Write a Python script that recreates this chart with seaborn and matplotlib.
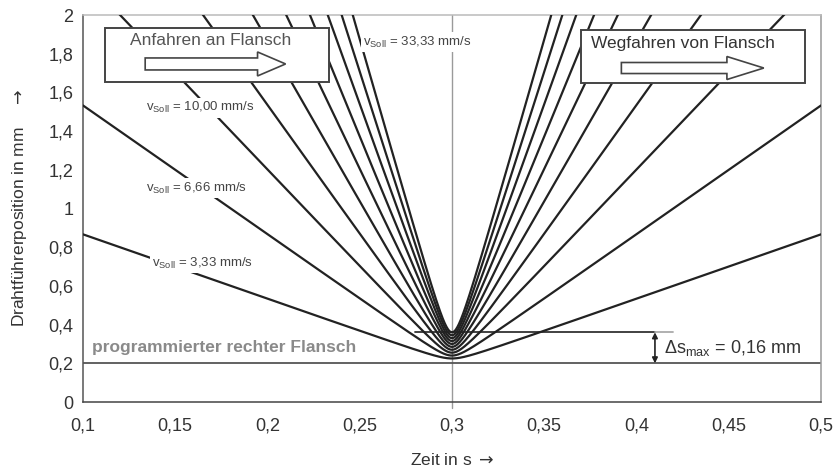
import numpy as np
import pandas as pd
import matplotlib.pyplot as plt
from matplotlib.patches import Rectangle, FancyArrow
import seaborn as sns

# chart values
speeds = [3.33, 6.66, 10.00, 13.33, 16.66, 20.00, 23.33, 26.66, 30.00, 33.33]  # v_Soll in mm/s
turn_pos = [0.225, 0.24, 0.255, 0.27, 0.285, 0.30, 0.315, 0.33, 0.345, 0.36]  # position at reversal in mm
flange = 0.2        # programmierter rechter Flansch
t_turn = 0.3        # reversal time in s
ds_max = 0.16

xticks = [0.1, 0.15, 0.2, 0.25, 0.3, 0.35, 0.4, 0.45, 0.5]
xtick_labels = ["0,1", "0,15", "0,2", "0,25", "0,3", "0,35", "0,4", "0,45", "0,5"]
yticks = [0, 0.2, 0.4, 0.6, 0.8, 1.0, 1.2, 1.4, 1.6, 1.8, 2.0]
ytick_labels = ["0", "0,2", "0,4", "0,6", "0,8", "1", "1,2", "1,4", "1,6", "1,8", "2"]

# build long table: position = flange + v*|t - t_turn|, rounded off at the reversal point
t = np.linspace(0.1, 0.5, 1601)
rows = []
for v, s0 in zip(speeds, turn_pos):
    c = s0 - flange
    s = flange + np.sqrt((v * (t - t_turn)) ** 2 + c ** 2)
    rows.append(pd.DataFrame({"t": t, "s": s, "v": v}))
df = pd.concat(rows)

sns.set_theme(style="white")
plt.rcParams["font.family"] = ["Liberation Sans", "DejaVu Sans"]
plt.rcParams["mathtext.fontset"] = "custom"
plt.rcParams["mathtext.rm"] = "Liberation Sans"
plt.rcParams["mathtext.it"] = "Liberation Sans:italic"
plt.rcParams["mathtext.sf"] = "DejaVu Sans"

fig = plt.figure(figsize=(8.37, 4.69), dpi=100)
ax = fig.add_axes([83 / 837, 67 / 469, (821 - 83) / 837, (402 - 15) / 469])

# reference lines
ax.plot([t_turn, t_turn], [-0.03, 2], color="#9a9a9a", lw=1.0, zorder=1, clip_on=False)
ax.plot([0.1, 0.5], [flange, flange], color="#555555", lw=1.3, zorder=2)
ax.plot([0.28, 0.41], [flange + ds_max, flange + ds_max], color="#333333", lw=1.3, zorder=2)
ax.plot([0.41, 0.42], [flange + ds_max, flange + ds_max], color="#aaaaaa", lw=1.3, zorder=2)

sns.lineplot(data=df, x="t", y="s", hue="v", palette=["#222222"] * len(speeds),
             legend=False, estimator=None, lw=1.6, ax=ax, zorder=3)

# double arrow for overshoot
ax.annotate("", xy=(0.41, flange), xytext=(0.41, flange + ds_max),
            arrowprops=dict(arrowstyle="<|-|>", color="#222222", lw=1.2,
                            mutation_scale=8, shrinkA=0, shrinkB=0), zorder=4)
ax.text(0.415, 0.28, r"Δs$_{\mathrm{max}}$ = 0,16 mm", fontsize=13, color="#333333",
        va="center", ha="left", zorder=4)

# boxes with hollow arrows
ax.add_patch(Rectangle((0.112, 1.654), 0.1212, 0.279, fc="white", ec="#444444", lw=1.4, zorder=5))
ax.text(0.1255, 1.87, "Anfahren an Flansch", fontsize=12.5, color="#555555", va="center", zorder=6)
ax.add_patch(FancyArrow(0.1337, 1.747, 0.0761, 0, width=0.062, head_width=0.124,
                        head_length=0.0152, length_includes_head=True,
                        fc="white", ec="#444444", lw=1.2, zorder=6))

ax.add_patch(Rectangle((0.370, 1.649), 0.1213, 0.273, fc="white", ec="#444444", lw=1.4, zorder=5))
ax.text(0.3755, 1.855, "Wegfahren von Flansch", fontsize=12.5, color="#333333", va="center", zorder=6)
ax.add_patch(FancyArrow(0.3918, 1.726, 0.0772, 0, width=0.057, head_width=0.119,
                        head_length=0.020, length_includes_head=True,
                        fc="white", ec="#444444", lw=1.2, zorder=6))

# speed labels
lbl = dict(fontsize=9.5, color="#444444", va="center", ha="left", zorder=6,
           bbox=dict(fc="white", ec="none", pad=1.5))
ax.text(0.252, 1.86, r"v$_{\mathrm{Soll}}$ = 33,33 mm/s", **lbl)
ax.text(0.134, 1.52, r"v$_{\mathrm{Soll}}$ = 10,00 mm/s", **lbl)
ax.text(0.134, 1.106, r"v$_{\mathrm{Soll}}$ = 6,66 mm/s", **lbl)
ax.text(0.1375, 0.718, r"v$_{\mathrm{Soll}}$ = 3,33 mm/s", **lbl)

ax.text(0.105, 0.28, "programmierter rechter Flansch", fontsize=12.5, color="#8a8a8a",
        fontweight="bold", va="center", ha="left", zorder=4)

# axes
ax.set_xlim(0.1, 0.5)
ax.set_ylim(0, 2)
ax.set_xticks(xticks)
ax.set_xticklabels(xtick_labels, fontsize=13, color="#333333")
ax.set_yticks(yticks)
ax.set_yticklabels(ytick_labels, fontsize=13, color="#333333")
ax.tick_params(axis="both", direction="inout", length=7, width=1, color="#444444")
ax.tick_params(axis="x", pad=8)
ax.set_xlabel(r"Zeit in s $\mathsf{\rightarrow}$", fontsize=12.5, color="#333333", labelpad=12)
ax.set_ylabel(r"Drahtführerposition in mm    $\mathsf{\rightarrow}$", fontsize=12.5,
              color="#333333", labelpad=14)

ax.spines["left"].set_color("#555555")
ax.spines["bottom"].set_color("#444444")
ax.spines["top"].set_color("#bbbbbb")
ax.spines["right"].set_color("#999999")
for sp in ax.spines.values():
    sp.set_linewidth(1.1)

fig.savefig("out.png", dpi=100)
